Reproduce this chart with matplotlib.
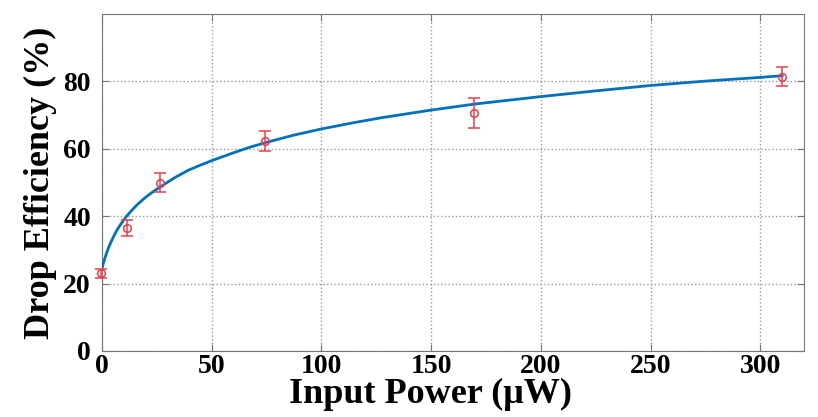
import matplotlib
matplotlib.use("Agg")
import matplotlib.pyplot as plt
import numpy as np

plt.rcParams['font.family'] = ['Liberation Serif', 'DejaVu Serif']
plt.rcParams['font.weight'] = 'bold'

# measured points with error bars
power = [-0.5, 11.5, 26.4, 74.3, 169.6, 310]
eff = [23.0, 36.5, 50.0, 62.3, 70.6, 81.4]
err = [1.3, 2.5, 2.7, 3.0, 4.4, 2.9]

# fitted curve
fit_x = [0, 0.5, 1, 2, 3, 4, 5, 6.5, 8, 9.5, 11.2, 13.5, 16, 20, 24, 28,
         33, 39.5, 45, 50, 56, 62, 68, 74.3, 87, 100, 115, 128, 150, 170,
         200, 225, 250, 275, 300, 310]
fit_y = [24.5, 25.8, 26.9, 28.9, 30.7, 32.2, 33.6, 35.5, 37.1, 38.5, 40.0,
         41.7, 43.4, 45.7, 47.6, 49.3, 51.4, 53.7, 55.2, 56.5, 57.9, 59.3,
         60.6, 61.8, 64.0, 65.9, 67.8, 69.3, 71.5, 73.3, 75.5, 77.2, 78.8,
         80.1, 81.2, 81.7]

xticks = [0, 50, 100, 150, 200, 250, 300]
yticks = [0, 20, 40, 60, 80]

fig = plt.figure(figsize=(8.18, 4.17), dpi=100)
ax = fig.add_axes([0.1247, 0.1583, 0.8583, 0.808])

ax.plot(fit_x, fit_y, color='#0072BD', lw=2, zorder=3)
ax.errorbar(power, eff, yerr=err, fmt='o', mfc='none', mec='#f03a4a',
            ecolor='#f03a4a', ms=5.5, mew=1.1, elinewidth=1.1, capsize=4,
            capthick=1.1, zorder=4, clip_on=False)

ax.set_xlim(0, 320)
ax.set_ylim(0, 100)
ax.set_xticks(xticks)
ax.set_yticks(yticks)
ax.grid(True, ls=':', color='#999999', lw=1)

for s in ax.spines.values():
    s.set_color('#777777')
ax.tick_params(direction='in', length=5, color='#777777', top=True, right=True,
               labelsize=20)
ax.tick_params(axis='y', pad=8)
ax.tick_params(axis='x', pad=2)
for lab in ax.get_xticklabels() + ax.get_yticklabels():
    lab.set_fontweight('bold')

ax.set_xlabel('Input Power (\u03bcW)', fontsize=26, fontweight='bold')
ax.set_ylabel('Drop Efficiency (%)', fontsize=26, fontweight='bold')
ax.xaxis.set_label_coords(0.4685, -0.155)
ax.xaxis.label.set_va('baseline')
ax.yaxis.set_label_coords(-0.0883, 0.5)
ax.yaxis.label.set_va('center')

fig.savefig('out.png', dpi=100)
